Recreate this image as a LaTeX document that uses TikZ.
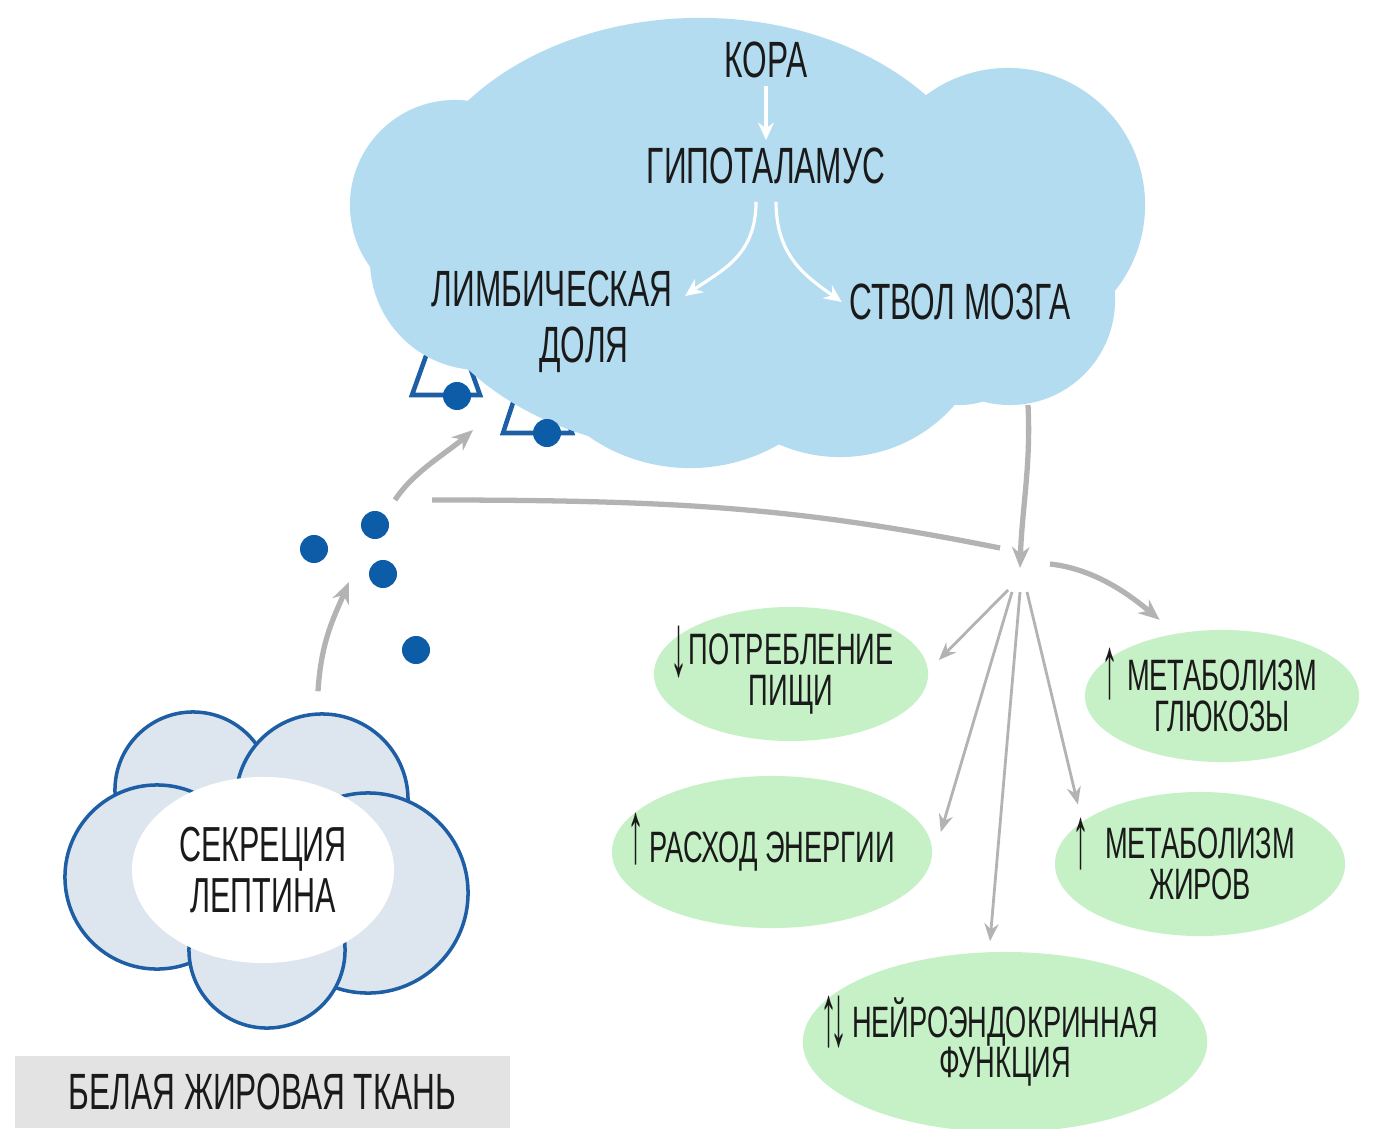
\documentclass[tikz,border=0pt]{standalone}
\usepackage{fontspec}
\setmainfont[FakeStretch=0.62]{Liberation Sans}
\usepackage{tikz}
\usetikzlibrary{positioning, arrows.meta, shapes.geometric}

\definecolor{brainblue}{HTML}{B3DCF0}
\definecolor{leptinblue}{HTML}{0D5CA8}
\definecolor{fatfill}{HTML}{DDE5EE}
\definecolor{fatline}{HTML}{1E5EA5}
\definecolor{effectgreen}{HTML}{C6F0C6}
\definecolor{signalgrey}{HTML}{B3B3B3}
\definecolor{labelgrey}{HTML}{E3E3E3}
\definecolor{inkblack}{HTML}{1A1A1A}

\newcommand{\updown}[2]{\smash{\raisebox{#1}{\scalebox{1.25}[2]{#2}}}}

\begin{document}
\begin{tikzpicture}[
    x=0.01cm, y=-0.01cm,
    >=Stealth,
    font=\fontsize{14.5}{16}\selectfont,
    brainlabel/.style={text=inkblack, align=center, inner sep=2pt},
    effect/.style={
        ellipse,
        fill=effectgreen,
        text=inkblack,
        align=center,
        inner xsep=-0.1cm,
        inner ysep=0pt,
        font=\fontsize{12.5}{11.6}\selectfont
    },
    fatlobe/.style={fill=fatfill, draw=fatline, line width=1pt},
    receptor/.style={draw=fatline, fill=white, line width=1.3pt, line join=miter},
    leptindot/.style={circle, fill=leptinblue, inner sep=0pt, minimum size=0.28cm},
    brainarrow/.style={draw=white, line width=0.9pt, -{Stealth[length=5pt, width=4.5pt]}},
    signalline/.style={draw=signalgrey, line width=1.5pt},
    signalarrow/.style={signalline, -{Stealth[length=6pt, width=5pt]}},
    brancharrow/.style={draw=signalgrey, line width=0.8pt, -{Stealth[length=5pt, width=4pt]}}
]
    \useasboundingbox (0,0) rectangle (1374,1128);

    \draw[receptor] (412,395) -- (446,300) -- (480,395) -- cycle;
    \draw[receptor] (503,433) -- (537,330) -- (572,433) -- cycle;

    \fill[brainblue] (700,235) ellipse [x radius=2.95cm, y radius=2.17cm];
    \fill[brainblue] (455,205) circle [radius=1.05cm];
    \fill[brainblue] (480,260) circle [radius=1.1cm];
    \fill[brainblue] (690,290) circle [radius=1.78cm];
    \fill[brainblue] (1008,205) circle [radius=1.37cm];
    \fill[brainblue] (1010,300) circle [radius=1.05cm];
    \fill[brainblue] (840,305) circle [radius=1.52cm];
    \fill[brainblue] (960,330) circle [radius=0.75cm];

    \node[brainlabel] (cortex) at (766,60) {КОРА};
    \node[brainlabel] (hypo) at (766,166) {ГИПОТАЛАМУС};
    \node[brainlabel] (limbic) at (552,322) {ЛИМБИЧЕСКАЯ\\\hspace*{0.64cm}ДОЛЯ};
    \node[brainlabel] (stem) at (960,302) {СТВОЛ МОЗГА};

    \draw[brainarrow] (cortex) -- (hypo);
    \draw[brainarrow] ([shift={(-10,10)}]hypo.south) .. controls +(0,55) and +(35,-25) .. ([shift={(5,-26)}]limbic.east);
    \draw[brainarrow] ([shift={(10,10)}]hypo.south) .. controls +(0,55) and +(-35,-25) .. (stem.west);

    \node[leptindot] (r1) at (457,396) {};
    \node[leptindot] (r2) at (547,433) {};
    \node[leptindot] (d1) at (314,549) {};
    \node[leptindot] (d2) at (375,525) {};
    \node[leptindot] (d3) at (383,574) {};
    \node[leptindot] (d4) at (416,650) {};

    \filldraw[fatlobe] (193,790) circle [radius=0.78cm];
    \filldraw[fatlobe] (322,800) circle [radius=0.86cm];
    \filldraw[fatlobe] (157,877) circle [radius=0.92cm];
    \filldraw[fatlobe] (368,893) circle [radius=1cm];
    \filldraw[fatlobe] (267,950) circle [radius=0.78cm];
    \node[ellipse, fill=white, minimum width=2.62cm, minimum height=1.86cm, inner sep=0pt,
          align=center, text=inkblack, font=\fontsize{14}{14.5}\selectfont] (leptin) at (263,870) {СЕКРЕЦИЯ\\ЛЕПТИНА};

    \node[fill=labelgrey, minimum width=4.95cm, minimum height=0.72cm, inner sep=0pt,
          text=inkblack, font=\fontsize{14.5}{16}\selectfont] (tissue) at (262.5,1092) {БЕЛАЯ ЖИРОВАЯ ТКАНЬ};

    \node[effect, minimum width=2.74cm, minimum height=1.34cm] (food) at (791,674)
        {\llap{\updown{-0.25em}{↓}\hspace{0.02em}}ПОТРЕБЛЕНИЕ\\ПИЩИ};
    \node[effect, minimum width=2.74cm, minimum height=1.32cm] (glucose) at (1222,696)
        {\llap{\updown{-0.15em}{↑}\hspace{0.2em}}МЕТАБОЛИЗМ\\ГЛЮКОЗЫ};
    \node[effect, minimum width=3.2cm, minimum height=1.52cm] (energy) at (772,852)
        {\llap{\updown{0pt}{↑}\hspace{0.1em}}РАСХОД ЭНЕРГИИ};
    \node[effect, minimum width=2.9cm, minimum height=1.44cm] (fats) at (1200,864)
        {\llap{\updown{-0.2em}{↑}\hspace{0.35em}}МЕТАБОЛИЗМ\\ЖИРОВ};
    \node[effect, minimum width=3.97cm, minimum height=1.8cm] (neuro) at (1005,1042)
        {\llap{\updown{-0.2em}{↑\kern-0.12em↓}\hspace{0.1em}}НЕЙРОЭНДОКРИННАЯ\\ФУНКЦИЯ};

    \coordinate (hub) at (1020,572);
    \coordinate (brainbase) at (1028,405);

    \draw[signalarrow] ([shift={(55,-85)}]leptin.north) .. controls +(3,-50) and +(-15,35) .. ([shift={(-34,8)}]d3.center);
    \draw[signalarrow] ([shift={(20,-25)}]d2.center) .. controls +(18,-28) and +(-25,22) .. ([shift={(16,34)}]r1.center);
    \draw[signalline] ([shift={(57,-25)}]d2.center) .. controls +(250,0) and +(-200,-40) .. ([shift={(-20,-24)}]hub);
    \draw[signalarrow] (brainbase) .. controls +(3,60) and +(2,-60) .. ([shift={(0,-4)}]hub);
    \draw[signalarrow] ([shift={(30,-8)}]hub) .. controls +(45,5) and +(-30,-25) .. ([shift={(35,-29)}]glucose.north west);
    \draw[brancharrow] ([shift={(-12,18)}]hub) -- ([shift={(10,-14)}]food.east);
    \draw[brancharrow] ([shift={(-8,20)}]hub) -- ([shift={(8,-20)}]energy.east);
    \draw[brancharrow] ([shift={(0,20)}]hub) -- ([shift={(-15,-10)}]neuro.north);
    \draw[brancharrow] ([shift={(7,20)}]hub) -- ([shift={(-19,-8)}]fats.north west);
\end{tikzpicture}
\end{document}
